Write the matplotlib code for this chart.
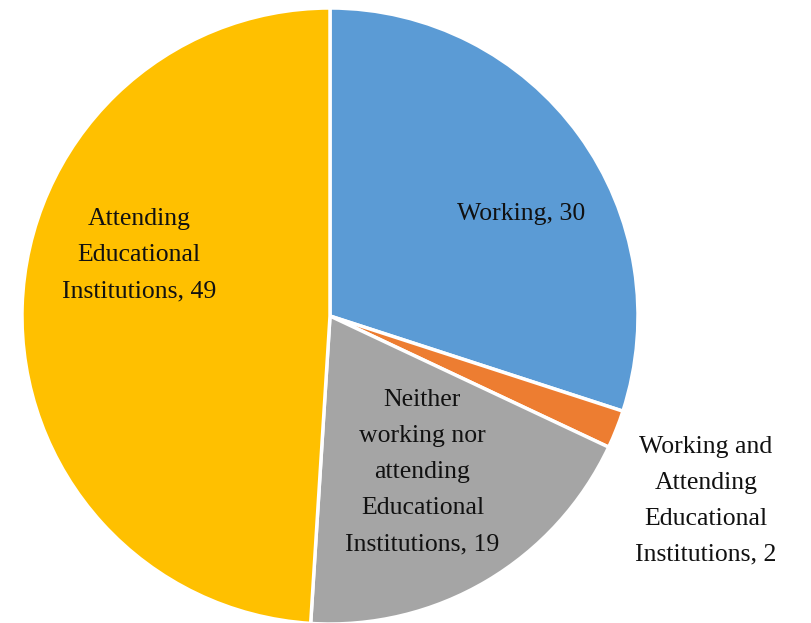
import matplotlib.pyplot as plt

# Youth activity status shares
categories = [
    "Working",
    "Working and\nAttending\nEducational\nInstitutions",
    "Neither\nworking nor\nattending\nEducational\nInstitutions",
    "Attending\nEducational\nInstitutions",
]
values = [30, 2, 19, 49]
colors = ["#5B9BD5", "#ED7D31", "#A5A5A5", "#FFC000"]

# label anchor points (in pie radius units)
label_pos = [(0.62, 0.33), (1.22, -0.60), (0.30, -0.507), (-0.62, 0.198)]

plt.rcParams["font.family"] = ["Liberation Serif", "DejaVu Serif"]

fig = plt.figure(figsize=(8.12, 6.23), dpi=100)
ax = fig.add_axes([0, 0, 1, 1])

ax.pie(values, colors=colors, startangle=90, counterclock=False,
       radius=1.0, wedgeprops=dict(edgecolor="white", linewidth=2.5))

for name, val, (x, y) in zip(categories, values, label_pos):
    ax.text(x, y, f"{name}, {val}", ha="center", va="center",
            fontsize=18.5, color="#111111", linespacing=1.82)

# pie center near (330, 316) px, radius ~308 px
r = 308.0
ax.set_xlim(-330 / r, (812 - 330) / r)
ax.set_ylim(-(623 - 316) / r, 316 / r)
ax.set_aspect("auto")
ax.axis("off")

plt.savefig("out.png", dpi=100)
plt.close()
